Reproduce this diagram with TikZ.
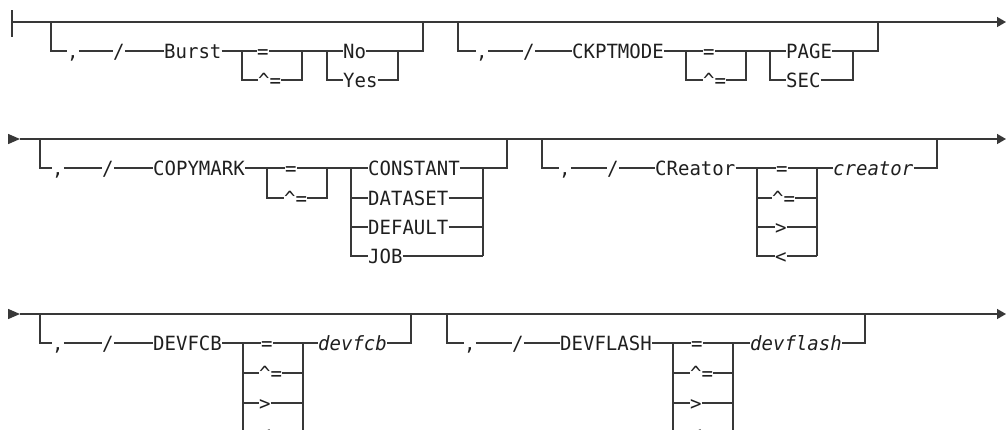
\documentclass[tikz,border=0pt]{standalone}
\usepackage{fontspec}
\usetikzlibrary{arrows.meta}
\newfontfamily\rr{DejaVu Sans Mono}[FakeStretch=0.97]
\definecolor{ln}{gray}{0.22}
\definecolor{txt}{gray}{0.12}
\begin{document}
\begin{tikzpicture}[x=1pt,y=-1pt,
  kw/.style={font=\rr\fontsize{19.6}{24}\selectfont, inner sep=0pt, anchor=west,
             text height=14.3pt, text depth=0pt, text=txt},
  var/.style={kw, font=\rr\itshape\fontsize{19.6}{24}\selectfont},
  rail/.style={draw=ln, line width=1.4pt},
  endarrow/.style={-{Triangle[length=9pt,width=10pt]}},
  starttri/.style={-{Triangle[length=12pt,width=10pt]}}]
\useasboundingbox (0,0) rectangle (1007,429);
\clip (0,0) rectangle (1007,429);

% ================= ROW 1 =================
\coordinate (s1t) at (12,10); \coordinate (s1b) at (12,37);
\coordinate (s1) at (12,22); \coordinate (e1) at (1006,22);
\draw[rail] (s1t) -- (s1b);
\draw[rail,endarrow] (s1) -- (e1);

% Group A : Burst
\coordinate (A0) at (51,22); \coordinate (A1) at (51,51);
\node[kw] (Acm) at (67,51) {,};
\node[kw] (Asl) at (113,51) {/};
\node[kw] (Akw) at (164,51) {Burst};
\coordinate (Ab1) at (242,51); \coordinate (Ab2) at (242,80);
\node[kw] (Aeq) at (257,51) {=};
\node[kw] (Ane) at (258,80) {\textasciicircum=};
\coordinate (Ae1) at (302,51); \coordinate (Ae2) at (302,80);
\coordinate (Av1) at (327,51); \coordinate (Av2) at (327,80);
\node[kw] (Ano) at (343,51) {No};
\node[kw] (Ayes) at (343,80) {Yes};
\coordinate (Aw1) at (398,51); \coordinate (Aw2) at (398,80);
\coordinate (Az1) at (423,51); \coordinate (Az0) at (423,22);
\draw[rail] (A0) -- (A1) -- (Acm.west);
\draw[rail] (Acm.east) -- (Asl.west);
\draw[rail] (Asl.east) -- (Akw.west);
\draw[rail] (Akw.east) -- (Ab1) -- (Aeq.west);
\draw[rail] (Ab1) -- (Ab2) -- (Ane.west);
\draw[rail] (Aeq.east) -- (Ae1) -- (Av1) -- (Ano.west);
\draw[rail] (Ane.east) -- (Ae2) -- (Ae1);
\draw[rail] (Av1) -- (Av2) -- (Ayes.west);
\draw[rail] (Ano.east) -- (Aw1) -- (Az1) -- (Az0);
\draw[rail] (Ayes.east) -- (Aw2) -- (Aw1);

% Group B : CKPTMODE
\coordinate (B0) at (458,22); \coordinate (B1) at (458,51);
\node[kw] (Bcm) at (476,51) {,};
\node[kw] (Bsl) at (523,51) {/};
\node[kw] (Bkw) at (572,51) {CKPTMODE};
\coordinate (Bb1) at (686,51); \coordinate (Bb2) at (686,80);
\node[kw] (Beq) at (703,51) {=};
\node[kw] (Bne) at (703,80) {\textasciicircum=};
\coordinate (Be1) at (746,51); \coordinate (Be2) at (746,80);
\coordinate (Bv1) at (770,51); \coordinate (Bv2) at (770,80);
\node[kw] (Bpg) at (786,51) {PAGE};
\node[kw] (Bsec) at (786,80) {SEC};
\coordinate (Bw1) at (853,51); \coordinate (Bw2) at (853,80);
\coordinate (Bz1) at (878,51); \coordinate (Bz0) at (878,22);
\draw[rail] (B0) -- (B1) -- (Bcm.west);
\draw[rail] (Bcm.east) -- (Bsl.west);
\draw[rail] (Bsl.east) -- (Bkw.west);
\draw[rail] (Bkw.east) -- (Bb1) -- (Beq.west);
\draw[rail] (Bb1) -- (Bb2) -- (Bne.west);
\draw[rail] (Beq.east) -- (Be1) -- (Bv1) -- (Bpg.west);
\draw[rail] (Bne.east) -- (Be2) -- (Be1);
\draw[rail] (Bv1) -- (Bv2) -- (Bsec.west);
\draw[rail] (Bpg.east) -- (Bw1) -- (Bz1) -- (Bz0);
\draw[rail] (Bsec.east) -- (Bw2) -- (Bw1);

% ================= ROW 2 =================
\coordinate (s2) at (8,139); \coordinate (s2t) at (20,139); \coordinate (e2) at (1006,139);
\draw[rail,starttri] (s2) -- (s2t);
\draw[rail,endarrow] (s2t) -- (e2);

% Group C : COPYMARK
\coordinate (C0) at (40,139); \coordinate (C1) at (40,168);
\node[kw] (Ccm) at (52,168) {,};
\node[kw] (Csl) at (102,168) {/};
\node[kw] (Ckw) at (153,168) {COPYMARK};
\coordinate (Cb1) at (267,168); \coordinate (Cb2) at (267,198);
\node[kw] (Ceq) at (285,168) {=};
\node[kw] (Cne) at (284,198) {\textasciicircum=};
\coordinate (Ce1) at (327,168); \coordinate (Ce2) at (327,198);
\coordinate (Cv1) at (351,168); \coordinate (Cv2) at (351,198);
\coordinate (Cv3) at (351,227); \coordinate (Cv4) at (351,256);
\node[kw] (Ccon) at (368,168) {CONSTANT};
\node[kw] (Cdat) at (368,198) {DATASET};
\node[kw] (Cdef) at (368,227) {DEFAULT};
\node[kw] (Cjob) at (368,256) {JOB};
\coordinate (Cw1) at (483,168); \coordinate (Cw2) at (483,198);
\coordinate (Cw3) at (483,227); \coordinate (Cw4) at (483,256);
\coordinate (Cz1) at (507,168); \coordinate (Cz0) at (507,139);
\draw[rail] (C0) -- (C1) -- (Ccm.west);
\draw[rail] (Ccm.east) -- (Csl.west);
\draw[rail] (Csl.east) -- (Ckw.west);
\draw[rail] (Ckw.east) -- (Cb1) -- (Ceq.west);
\draw[rail] (Cb1) -- (Cb2) -- (Cne.west);
\draw[rail] (Ceq.east) -- (Ce1) -- (Cv1) -- (Ccon.west);
\draw[rail] (Cne.east) -- (Ce2) -- (Ce1);
\draw[rail] (Cv1) -- (Cv4) -- (Cjob.west);
\draw[rail] (Cv2) -- (Cdat.west);
\draw[rail] (Cv3) -- (Cdef.west);
\draw[rail] (Ccon.east) -- (Cw1) -- (Cz1) -- (Cz0);
\draw[rail] (Cw1) -- (Cw4);
\draw[rail] (Cdat.east) -- (Cw2);
\draw[rail] (Cdef.east) -- (Cw3);
\draw[rail] (Cjob.east) -- (Cw4);

% Group D : CReator
\coordinate (D0) at (542,139); \coordinate (D1) at (542,168);
\node[kw] (Dcm) at (559,168) {,};
\node[kw] (Dsl) at (607,168) {/};
\node[kw] (Dkw) at (655,168) {CReator};
\coordinate (Db1) at (757,168); \coordinate (Db2) at (757,198);
\coordinate (Db3) at (757,227); \coordinate (Db4) at (757,256);
\node[kw] (Deq) at (776,168) {=};
\node[kw] (Dne) at (772,198) {\textasciicircum=};
\node[kw] (Dgt) at (775,227) {>};
\node[kw] (Dlt) at (775,256) {<};
\coordinate (De1) at (817,168); \coordinate (De2) at (817,198);
\coordinate (De3) at (817,227); \coordinate (De4) at (817,256);
\node[var] (Dvar) at (833,168) {creator};
\coordinate (Dz1) at (937,168); \coordinate (Dz0) at (937,139);
\draw[rail] (D0) -- (D1) -- (Dcm.west);
\draw[rail] (Dcm.east) -- (Dsl.west);
\draw[rail] (Dsl.east) -- (Dkw.west);
\draw[rail] (Dkw.east) -- (Db1) -- (Deq.west);
\draw[rail] (Db1) -- (Db4) -- (Dlt.west);
\draw[rail] (Db2) -- (Dne.west);
\draw[rail] (Db3) -- (Dgt.west);
\draw[rail] (Deq.east) -- (De1) -- (Dvar.west);
\draw[rail] (De1) -- (De4);
\draw[rail] (Dne.east) -- (De2);
\draw[rail] (Dgt.east) -- (De3);
\draw[rail] (Dlt.east) -- (De4);
\draw[rail] (Dvar.east) -- (Dz1) -- (Dz0);

% ================= ROW 3 =================
\coordinate (s3) at (8,314); \coordinate (s3t) at (20,314); \coordinate (e3) at (1006,314);
\draw[rail,starttri] (s3) -- (s3t);
\draw[rail,endarrow] (s3t) -- (e3);

% Group E : DEVFCB
\coordinate (E0) at (40,314); \coordinate (E1) at (40,343);
\node[kw] (Ecm) at (52,343) {,};
\node[kw] (Esl) at (102,343) {/};
\node[kw] (Ekw) at (153,343) {DEVFCB};
\coordinate (Eb1) at (243,343); \coordinate (Eb2) at (243,373);
\coordinate (Eb3) at (243,403); \coordinate (Eb4) at (243,433);
\node[kw] (Eeq) at (261,343) {=};
\node[kw] (Ene) at (259,373) {\textasciicircum=};
\node[kw] (Egt) at (259,403) {>};
\node[kw] (Elt) at (259,433) {<};
\coordinate (Ee1) at (303,343); \coordinate (Ee2) at (303,373);
\coordinate (Ee3) at (303,403); \coordinate (Ee4) at (303,433);
\node[var] (Evar) at (318,343) {devfcb};
\coordinate (Ez1) at (411,343); \coordinate (Ez0) at (411,314);
\draw[rail] (E0) -- (E1) -- (Ecm.west);
\draw[rail] (Ecm.east) -- (Esl.west);
\draw[rail] (Esl.east) -- (Ekw.west);
\draw[rail] (Ekw.east) -- (Eb1) -- (Eeq.west);
\draw[rail] (Eb1) -- (Eb4) -- (Elt.west);
\draw[rail] (Eb2) -- (Ene.west);
\draw[rail] (Eb3) -- (Egt.west);
\draw[rail] (Eeq.east) -- (Ee1) -- (Evar.west);
\draw[rail] (Ee1) -- (Ee4);
\draw[rail] (Ene.east) -- (Ee2);
\draw[rail] (Egt.east) -- (Ee3);
\draw[rail] (Elt.east) -- (Ee4);
\draw[rail] (Evar.east) -- (Ez1) -- (Ez0);

% Group F : DEVFLASH
\coordinate (F0) at (447,314); \coordinate (F1) at (447,343);
\node[kw] (Fcm) at (464,343) {,};
\node[kw] (Fsl) at (512,343) {/};
\node[kw] (Fkw) at (560,343) {DEVFLASH};
\coordinate (Fb1) at (673,343); \coordinate (Fb2) at (673,373);
\coordinate (Fb3) at (673,403); \coordinate (Fb4) at (673,433);
\node[kw] (Feq) at (691,343) {=};
\node[kw] (Fne) at (690,373) {\textasciicircum=};
\node[kw] (Fgt) at (690,403) {>};
\node[kw] (Flt) at (690,433) {<};
\coordinate (Fe1) at (733,343); \coordinate (Fe2) at (733,373);
\coordinate (Fe3) at (733,403); \coordinate (Fe4) at (733,433);
\node[var] (Fvar) at (750,343) {devflash};
\coordinate (Fz1) at (865,343); \coordinate (Fz0) at (865,314);
\draw[rail] (F0) -- (F1) -- (Fcm.west);
\draw[rail] (Fcm.east) -- (Fsl.west);
\draw[rail] (Fsl.east) -- (Fkw.west);
\draw[rail] (Fkw.east) -- (Fb1) -- (Feq.west);
\draw[rail] (Fb1) -- (Fb4) -- (Flt.west);
\draw[rail] (Fb2) -- (Fne.west);
\draw[rail] (Fb3) -- (Fgt.west);
\draw[rail] (Feq.east) -- (Fe1) -- (Fvar.west);
\draw[rail] (Fe1) -- (Fe4);
\draw[rail] (Fne.east) -- (Fe2);
\draw[rail] (Fgt.east) -- (Fe3);
\draw[rail] (Flt.east) -- (Fe4);
\draw[rail] (Fvar.east) -- (Fz1) -- (Fz0);
\end{tikzpicture}
\end{document}
